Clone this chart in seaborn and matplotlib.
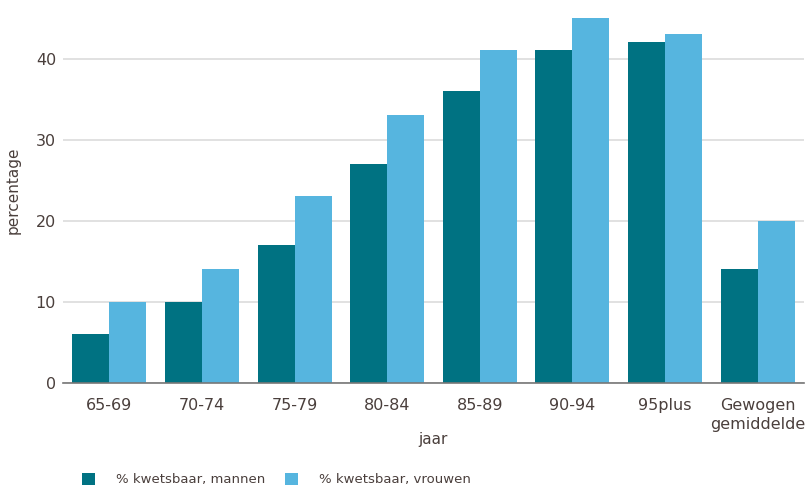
import matplotlib
matplotlib.use("Agg")
import matplotlib.pyplot as plt
import seaborn as sns
import pandas as pd
from matplotlib.patches import Patch

categories = ["65-69", "70-74", "75-79", "80-84", "85-89", "90-94", "95plus",
              "Gewogen\ngemiddelde"]
mannen = [6, 10, 17, 27, 36, 41, 42, 14]
vrouwen = [10, 14, 23, 33, 41, 45, 43, 20]
series_names = ["% kwetsbaar, mannen", "% kwetsbaar, vrouwen"]
colors = ["#007282", "#56B5DF"]
text_color = "#4a3f3c"

df = pd.DataFrame({
    "jaar": categories * 2,
    "percentage": mannen + vrouwen,
    "reeks": [series_names[0]] * len(categories) + [series_names[1]] * len(categories),
})

sns.set_theme(style="white")
plt.rcParams["font.family"] = ["DejaVu Sans"]

fig = plt.figure(figsize=(8.08, 4.86), dpi=100)
ax = fig.add_axes([63 / 808, 1 - 383 / 486, 741 / 808, (383 - 14) / 486])

sns.barplot(data=df, x="jaar", y="percentage", hue="reeks", palette=colors,
            width=0.8, saturation=1, ax=ax, legend=False,
            edgecolor="none", linewidth=0)

ax.set_ylim(0, 45.5)
ax.set_xlim(-0.5, len(categories) - 0.5)
ax.set_yticks([0, 10, 20, 30, 40])
ax.yaxis.grid(True, color="#dcdcdc", linewidth=1.2)
ax.set_axisbelow(True)
for side in ["top", "right", "left"]:
    ax.spines[side].set_visible(False)
ax.spines["bottom"].set_color("#777777")
ax.spines["bottom"].set_linewidth(1.2)
ax.tick_params(axis="both", length=0, labelsize=11.5, colors=text_color)
ax.tick_params(axis="y", pad=5)
ax.tick_params(axis="x", pad=11)
for lbl in ax.get_xticklabels():
    lbl.set_linespacing(1.3)

ax.set_xlabel("jaar", fontsize=11, color=text_color, labelpad=0)
ax.set_ylabel("percentage", fontsize=11, color=text_color)
ax.yaxis.set_label_coords(-0.057, 0.523)

handles = [Patch(facecolor=c, edgecolor="none") for c in colors]
fig.legend(handles, series_names, loc="lower left", bbox_to_anchor=(70 / 808, -0.025),
           ncol=2, frameon=False, fontsize=9.5, labelcolor=text_color,
           handlelength=1.0, handleheight=1.0, handletextpad=1.6, columnspacing=1.45)

fig.savefig("out.png", dpi=100)
